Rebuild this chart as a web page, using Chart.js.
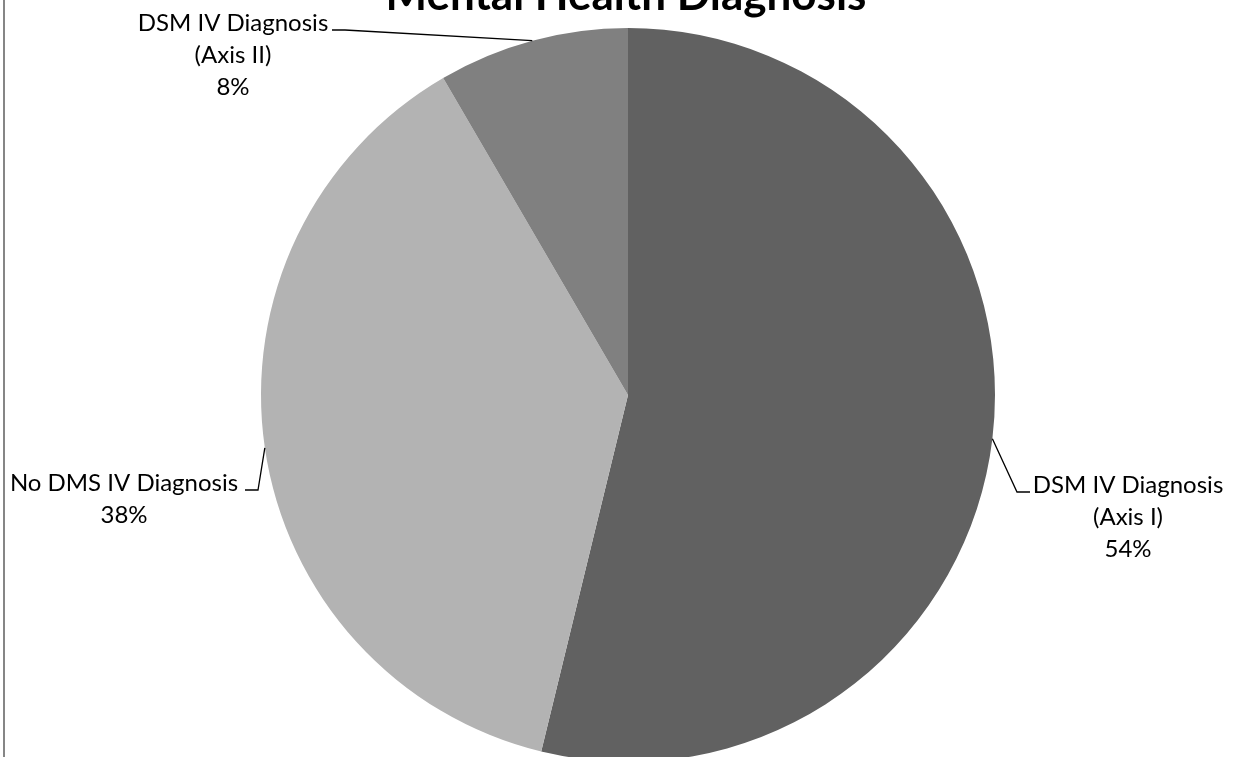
<!DOCTYPE html>
<html>
<head>
<meta charset="utf-8">
<script src="https://cdn.jsdelivr.net/npm/chart.js@4.4.1/dist/chart.umd.min.js"></script>
<style>
  body { margin: 0; background: #fff; }
  #wrap { position: relative; width: 1235px; height: 757px; overflow: hidden; }
</style>
</head>
<body>
<div id="wrap"><canvas id="pie" width="1235" height="770"></canvas></div>
<script>
// pie data
const chartTitle = 'Mental Health Diagnosis';
const categories = [['DSM IV Diagnosis', '(Axis I)'], ['No DMS IV Diagnosis'], ['DSM IV Diagnosis', '(Axis II)']];
const shares = [53.8, 37.8, 8.4];
const sliceColors = ['#616161', '#b3b3b3', '#808080'];

// where each callout sits (first baseline, leader start)
const calloutPos = [
    {x: 1128, y: 493, lx: 1030, ly: 492, dir: -1},
    {x: 124, y: 491, lx: 245, ly: 490, dir: 1},
    {x: 233, y: 31, lx: 332, ly: 30, dir: 1},
];

const callouts = {
    id: 'callouts',
    afterDraw(chart) {
        const ctx = chart.ctx;
        const meta = chart.getDatasetMeta(0);
        const total = shares.reduce((a, b) => a + b, 0);
        ctx.save();

        // frame edge on the left
        ctx.fillStyle = '#868686';
        ctx.fillRect(3, 0, 2, 757);

        // title (cut at the top like the original)
        ctx.fillStyle = '#000';
        ctx.textAlign = 'center';
        ctx.textBaseline = 'alphabetic';
        ctx.font = 'bold 44px Lato';
        ctx.fillText(chartTitle, 626, 10);

        ctx.font = '24px Lato';
        meta.data.forEach((arc, i) => {
            const p = arc.getProps(['x', 'y', 'startAngle', 'endAngle', 'outerRadius']);
            const mid = (p.startAngle + p.endAngle) / 2;
            const ex = p.x + Math.cos(mid) * p.outerRadius;
            const ey = p.y + Math.sin(mid) * p.outerRadius;
            const pos = calloutPos[i];

            ctx.strokeStyle = '#000';
            ctx.lineWidth = 1.3;
            ctx.beginPath();
            ctx.moveTo(pos.lx, pos.ly);
            ctx.lineTo(pos.lx + pos.dir * 13, pos.ly);
            ctx.lineTo(ex, ey);
            ctx.stroke();

            const lines = categories[i].concat([Math.round(shares[i] / total * 100) + '%']);
            lines.forEach((t, k) => ctx.fillText(t, pos.x, pos.y + k * 32));
        });
        ctx.restore();
    }
};

new Chart(document.getElementById('pie'), {
    type: 'pie',
    data: {
        labels: categories.map(c => c.join(' ')),
        datasets: [{
            data: shares,
            backgroundColor: sliceColors,
            borderWidth: 0,
        }],
    },
    options: {
        responsive: false,
        animation: false,
        layout: {
            padding: {top: 28, bottom: 8, left: 21, right: 0},
        },
        plugins: {
            legend: {display: false},
            tooltip: {enabled: false},
            title: {display: false},
        },
    },
    plugins: [callouts],
});
</script>
</body>
</html>
